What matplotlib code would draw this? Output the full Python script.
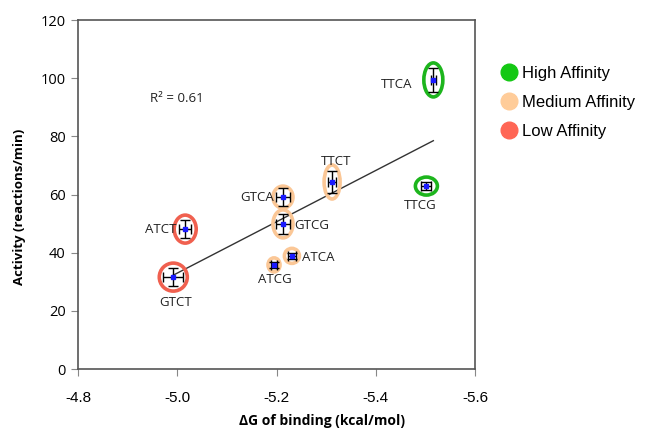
import numpy as np
import matplotlib.pyplot as plt
from matplotlib.patches import Ellipse
from matplotlib.lines import Line2D

# данные
names = ['TTCA', 'TTCG', 'TTCT', 'GTCA', 'GTCG', 'ATCA', 'ATCG', 'ATCT', 'GTCT']
dG = [-5.516, -5.502, -5.312, -5.213, -5.213, -5.231, -5.195, -5.016, -4.992]
activity = [99.4, 62.9, 64.3, 59.1, 49.9, 38.9, 35.8, 48.1, 31.6]
dG_err = [0.005, 0.010, 0.008, 0.015, 0.015, 0.008, 0.006, 0.012, 0.020]
act_err = [4.1, 1.4, 3.7, 3.1, 3.4, 1.0, 1.0, 3.1, 3.0]
affinity = ['High', 'High', 'Medium', 'Medium', 'Medium', 'Medium', 'Medium', 'Low', 'Low']

# оформление
colors = {'High': '#1db51d', 'Medium': '#fbc796', 'Low': '#f0604f'}
legend_colors = {'High': '#14c814', 'Medium': '#ffcc99', 'Low': '#ff6655'}
ring_px = [(19, 34), (22, 18), (16, 34), (20, 22), (20, 28), (15, 15), (12, 14), (22, 28), (28, 28)]
label_off = [(-37, -5), (-6, -19), (4, 21), (-26, 0), (29, -2), (26, -2), (1, -15), (-24, 0), (2, -25)]

fig = plt.figure(figsize=(6.5, 4.32), dpi=100)
ax = fig.add_axes([0.12, 0.1458, 0.6108, 0.8079])
ax.set_xlim(-4.8, -5.6)
ax.set_ylim(0, 120)

# пиксели -> единицы данных
px_x = 0.8 / 397
px_y = 120 / 349

for i in range(len(names)):
    w, h = ring_px[i]
    ax.add_patch(Ellipse((dG[i], activity[i]), w * px_x, h * px_y, fill=False,
                         edgecolor=colors[affinity[i]], lw=2.6, zorder=2))

ax.errorbar(dG, activity, xerr=dG_err, yerr=act_err, fmt='s', ms=2.5, color='#1a1aff',
            ecolor='black', elinewidth=1, capsize=3.3, capthick=1, zorder=3)

# линия тренда
k, b = np.polyfit(dG, activity, 1)
xs = np.array([max(dG), min(dG)])
ax.plot(xs, k * xs + b, color='#333333', lw=1, zorder=1)

for i, n in enumerate(names):
    ax.annotate(n, (dG[i], activity[i]), xytext=label_off[i], textcoords='offset pixels',
                ha='center', va='center', fontsize=9.5, family='Open Sans', color='#222222')

ax.text(-5.0, 93, 'R² = 0.61', ha='center', va='center', fontsize=9.5, family='Open Sans',
        color='#222222')

ax.set_xticks([-4.8, -5.0, -5.2, -5.4, -5.6])
ax.set_xticklabels(['-4.8', '-5.0', '-5.2', '-5.4', '-5.6'], family='Liberation Sans', fontsize=11)
ax.set_yticks(range(0, 121, 20))
ax.tick_params(axis='y', labelsize=10.5, direction='out', length=5, color='#888888', pad=4)
ax.tick_params(axis='x', direction='out', length=5, color='#888888', pad=11)
for lab in ax.get_yticklabels():
    lab.set_family('Open Sans')
for s in ax.spines.values():
    s.set_color('#555555')
    s.set_linewidth(1.2)

ax.set_xlabel('ΔG of binding (kcal/mol)', fontsize=10, fontweight='bold', family='Open Sans')
ax.xaxis.set_label_coords(0.615, -0.13)
ax.set_ylabel('Activity (reactions/min)', fontsize=9.5, fontweight='bold', family='Open Sans')
ax.yaxis.set_label_coords(-0.13, 0.465)

handles = [Line2D([], [], marker='o', ls='', ms=12, color=legend_colors[a]) for a in ['High', 'Medium', 'Low']]
fig.legend(handles, ['High Affinity', 'Medium Affinity', 'Low Affinity'], loc='upper left',
           bbox_to_anchor=(0.744, 0.882), frameon=False, handletextpad=0.2, labelspacing=0.85,
           prop={'family': 'Liberation Sans', 'size': 12}, handlelength=1.2)

fig.savefig('out.png', dpi=100)
